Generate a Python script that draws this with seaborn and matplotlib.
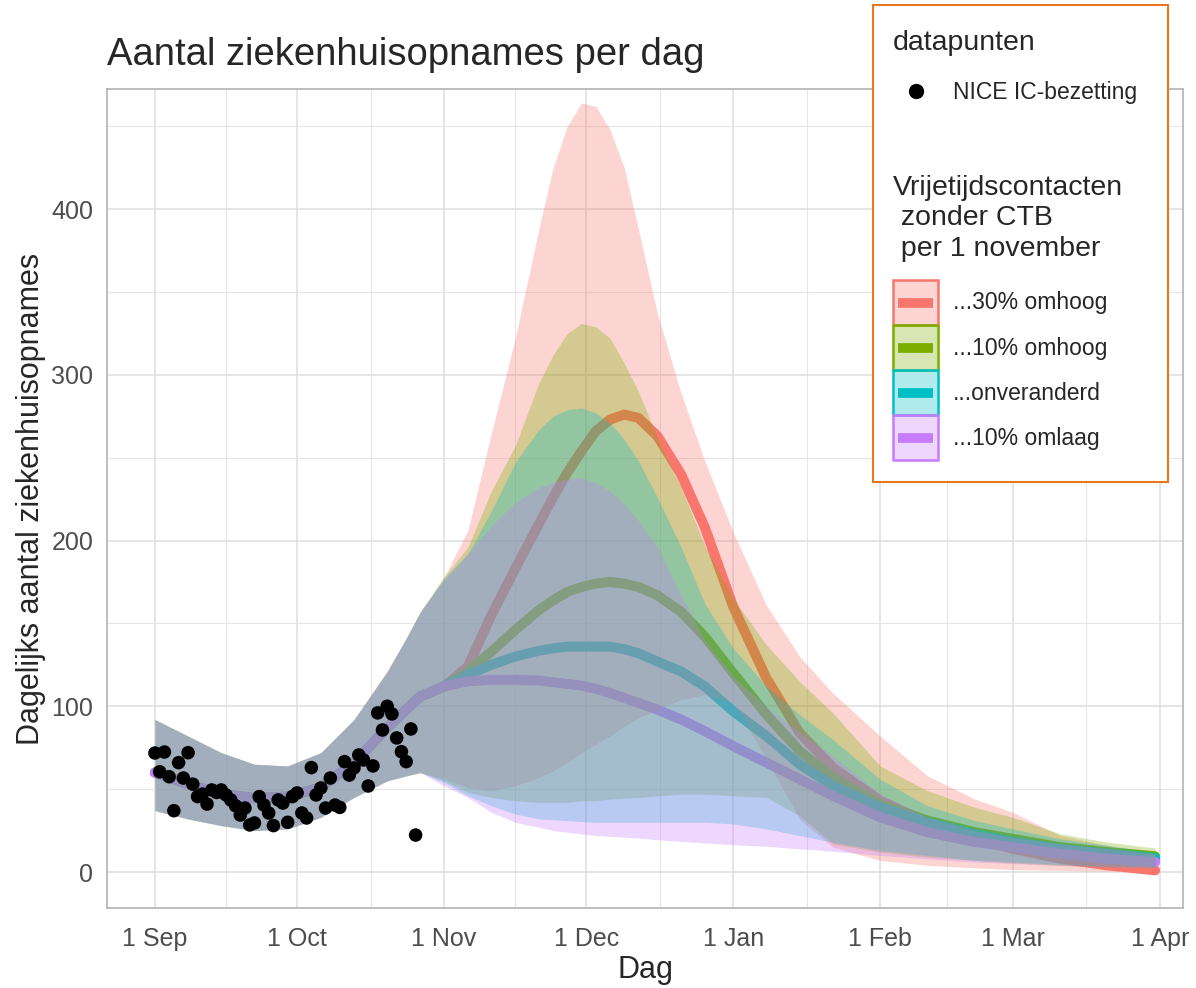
import pandas as pd
import seaborn as sns
import matplotlib.pyplot as plt
import matplotlib.dates as mdates
from matplotlib.patches import Patch, Rectangle
from matplotlib.lines import Line2D
from matplotlib.colors import to_rgba
from matplotlib.legend_handler import HandlerBase

START = pd.Timestamp('2021-09-01')

## NICE datapunten: dag na 1 september en aantal
nice_days = list(range(56))
nice_vals = [71.8, 60.5, 72.4, 57.5, 37, 66, 56.7, 72, 53, 45.5,
             47, 41, 49.5, 48, 49.5, 46.5, 43.5, 40, 34.4, 38.6,
             28.4, 29.6, 45.5, 40.4, 35.6, 28, 43.5, 41.6, 30, 45.5,
             47.7, 35.6, 32.6, 63, 46.5, 50.7, 38.6, 56.7, 40.4, 39,
             66.6, 58.5, 62.8, 70.6, 67.6, 51.9, 64, 96, 85.7, 100,
             95.4, 80.9, 72.6, 66.6, 86.3, 22.3]

## gezamenlijke modelfit t/m eind oktober
hist_days = [0, 7, 14, 21, 28, 35, 42, 49, 53, 56]
hist_mid = [60, 53, 47, 44.5, 45.5, 51, 66, 87, 98, 106]
hist_lo = [37, 32, 28, 25, 26, 33, 45, 55, 58, 60]
hist_hi = [92, 82, 72, 65, 64, 72, 92, 121, 141, 157]

## scenario's vanaf 1 november
scen_days = [61, 66, 71, 76, 81, 84, 87, 90, 93, 96, 99, 102, 106, 111, 116, 122,
             129, 136, 143, 153, 163, 173, 181, 191, 201, 211]

up30_mid = [112, 124, 155, 183, 210, 226, 241, 254, 266, 273, 276, 274, 263, 240, 208, 160,
            117, 84, 63, 43, 30, 20, 14, 8, 4, 1]
up30_lo = [56, 51, 49, 52, 57, 61, 66, 72, 77, 82, 88, 93, 98, 104, 107, 102,
           68, 32, 15, 7, 4, 2.5, 1.5, 1, 0.5, 0]
up30_hi = [178, 206, 265, 322, 388, 425, 450, 464, 462, 448, 425, 388, 337, 289, 248, 205,
           161, 130, 108, 82, 58, 44, 36, 22, 16, 11]

up10_mid = [112, 121, 133, 146, 158, 164, 169, 172, 174, 175, 174, 172, 167, 157, 142, 120,
            95, 73, 57, 41, 31, 24, 20, 15, 12, 9.5]
up10_lo = [55, 48, 45, 43, 42, 42, 42, 43, 43, 44, 44.5, 45, 46, 47, 47, 46,
           45, 34, 17, 12, 9, 7, 5.5, 4, 3, 2.5]
up10_hi = [178, 196, 230, 257, 295, 312, 325, 331, 329, 322, 307, 290, 262, 232, 197, 165,
           137, 115, 96, 64, 49, 39, 33, 23, 18, 14.5]

same_mid = [112, 119, 125, 130, 133.5, 135, 136, 136, 136, 136, 134.5, 132, 127, 121, 112, 97,
            82, 65, 52, 39, 30, 23, 18.5, 14, 11, 8.5]
same_lo = [54, 46, 40, 35, 32, 31.5, 31, 30.5, 30, 30, 30, 30, 30, 30, 30, 29,
           26, 22, 18, 13, 10, 7, 6, 4.5, 3.5, 3]
same_hi = [177, 192, 218, 247, 267, 275, 279, 280, 277, 271, 261, 248, 226, 196, 162, 135,
           112, 95, 80, 56, 40, 31, 26, 20, 16, 12]

down10_mid = [112, 115, 116, 116, 115.5, 114.5, 113.5, 112.5, 110.5, 108, 105, 102, 98, 92, 85, 76,
              66, 56, 46, 33, 24, 18, 15, 11, 8, 6]
down10_lo = [52, 45, 36, 30, 27, 25, 24, 23, 22, 21.5, 21, 20.5, 19.5, 18.5, 17.5, 16.5,
             15.5, 14, 12.5, 10, 8, 6, 5, 4, 3, 2.5]
down10_hi = [176, 192, 209, 223, 232, 235, 237, 238, 235, 230, 222, 212, 196, 167, 140, 118,
             100, 84, 70, 47, 33, 25, 21, 17, 14, 11]

scenarios = ['...30% omhoog', '...10% omhoog', '...onveranderd', '...10% omlaag']
colors = ['#F8766D', '#7CAE00', '#00BFC4', '#C77CFF']
series = [(up30_mid, up30_lo, up30_hi), (up10_mid, up10_lo, up10_hi),
          (same_mid, same_lo, same_hi), (down10_mid, down10_lo, down10_hi)]

month_labels = ['1 Sep', '1 Oct', '1 Nov', '1 Dec', '1 Jan', '1 Feb', '1 Mar', '1 Apr']


class KeyHandler(HandlerBase):
    ## pale box with coloured border and a thick line through the middle
    def create_artists(self, legend, orig, xdescent, ydescent, width, height, fontsize, trans):
        c = orig.get_edgecolor()
        r = Rectangle((-xdescent, -ydescent), width, height, facecolor=to_rgba(c, 0.3),
                      edgecolor=c, lw=1.8, transform=trans)
        yc = -ydescent + height / 2
        ln = Line2D([-xdescent + 0.12 * width, -xdescent + 0.88 * width], [yc, yc], color=c,
                    lw=7, solid_capstyle='butt', transform=trans)
        return [r, ln]


rows = []
for name, (mid, lo, hi) in zip(scenarios, series):
    for d, m, l, h in zip(hist_days + scen_days, hist_mid + mid, hist_lo + lo, hist_hi + hi):
        rows.append({'scenario': name, 'date': START + pd.Timedelta(days=d), 'mid': m, 'lo': l, 'hi': h})
df = pd.DataFrame(rows)
dots = pd.DataFrame({'date': [START + pd.Timedelta(days=d) for d in nice_days], 'val': nice_vals})

sns.set_theme(style='white')
plt.rcParams['font.family'] = ['Liberation Sans', 'DejaVu Sans']

fig = plt.figure(figsize=(11.96, 9.88), dpi=100)
ax = fig.add_axes([0.0895, 0.081, 0.8997, 0.829])

sns.lineplot(data=df, x='date', y='mid', hue='scenario', hue_order=scenarios, palette=colors,
             lw=7.2, legend=False, errorbar=None, ax=ax, zorder=2)
for name, col in zip(scenarios, colors):
    d = df[df['scenario'] == name]
    ax.fill_between(d['date'], d['lo'], d['hi'], color=col, alpha=0.3, lw=0, zorder=3)
sns.scatterplot(data=dots, x='date', y='val', color='black', s=95, edgecolor='none',
                legend=False, ax=ax, zorder=5)

months = pd.date_range('2021-09-01', '2022-04-01', freq='MS')
mnum = mdates.date2num(months)
ax.set_xticks(mnum, labels=month_labels)
ax.set_xticks((mnum[:-1] + mnum[1:]) / 2, minor=True)
ax.set_xlim(mdates.date2num(START) - 10.1, mdates.date2num(START) + 216.9)
ax.set_yticks([0, 100, 200, 300, 400])
ax.set_yticks([50, 150, 250, 350, 450], minor=True)
ax.set_ylim(-21.7, 472.5)

ax.set_axisbelow(True)
ax.grid(which='major', color='#DEDEDE', lw=1.1)
ax.grid(which='minor', color='#E6E6E6', lw=0.8)
ax.tick_params(which='minor', length=0)
ax.tick_params(which='major', length=4, width=1, color='#B3B3B3', labelsize=18,
               labelcolor='#4D4D4D')
ax.tick_params(axis='x', pad=9.5)
ax.tick_params(axis='y', pad=6)
for s in ax.spines.values():
    s.set_visible(True)
    s.set_color('#B3B3B3')
    s.set_linewidth(1.2)

ax.set_title('Aantal ziekenhuisopnames per dag', loc='left', fontsize=27.5, pad=17)
ax.set_xlabel('Dag', fontsize=22, labelpad=3)
ax.set_ylabel('Dagelijks aantal ziekenhuisopnames', fontsize=22, labelpad=4)

## legend box
box = Rectangle((873 / 1196, 1 - 482 / 988), (1168 - 873) / 1196, (482 - 5) / 988,
                transform=fig.transFigure, facecolor='white', edgecolor='#E87722', lw=1.5, zorder=4)
fig.patches.append(box)

dot = Line2D([], [], ls='none', marker='o', color='black', markersize=10)
leg1 = fig.legend([dot], ['NICE IC-bezetting'], title='datapunten', loc='upper left',
                  bbox_to_anchor=(893 / 1196, 1 - 30 / 988), frameon=False, fontsize=16.5,
                  title_fontsize=20.5, alignment='left', borderpad=0, borderaxespad=0,
                  handlelength=2.0, handletextpad=0.6, labelspacing=1.1)
leg1.set_zorder(6)

fig.text(893 / 1196, 1 - 175 / 988, 'Vrijetijdscontacten\n zonder CTB\n per 1 november',
         fontsize=20.5, va='top', ha='left', linespacing=1.22, zorder=6)

handles = [Patch(edgecolor=c) for c in colors]
leg2 = fig.legend(handles, scenarios, loc='upper left', bbox_to_anchor=(893 / 1196, 1 - 280 / 988),
                  frameon=False, fontsize=16.5, borderpad=0, borderaxespad=0,
                  handlelength=1.96, handleheight=2.65, handletextpad=0.65, labelspacing=0.0,
                  handler_map={Patch: KeyHandler()})
leg2.set_zorder(6)

fig.savefig('out.png', dpi=100)
